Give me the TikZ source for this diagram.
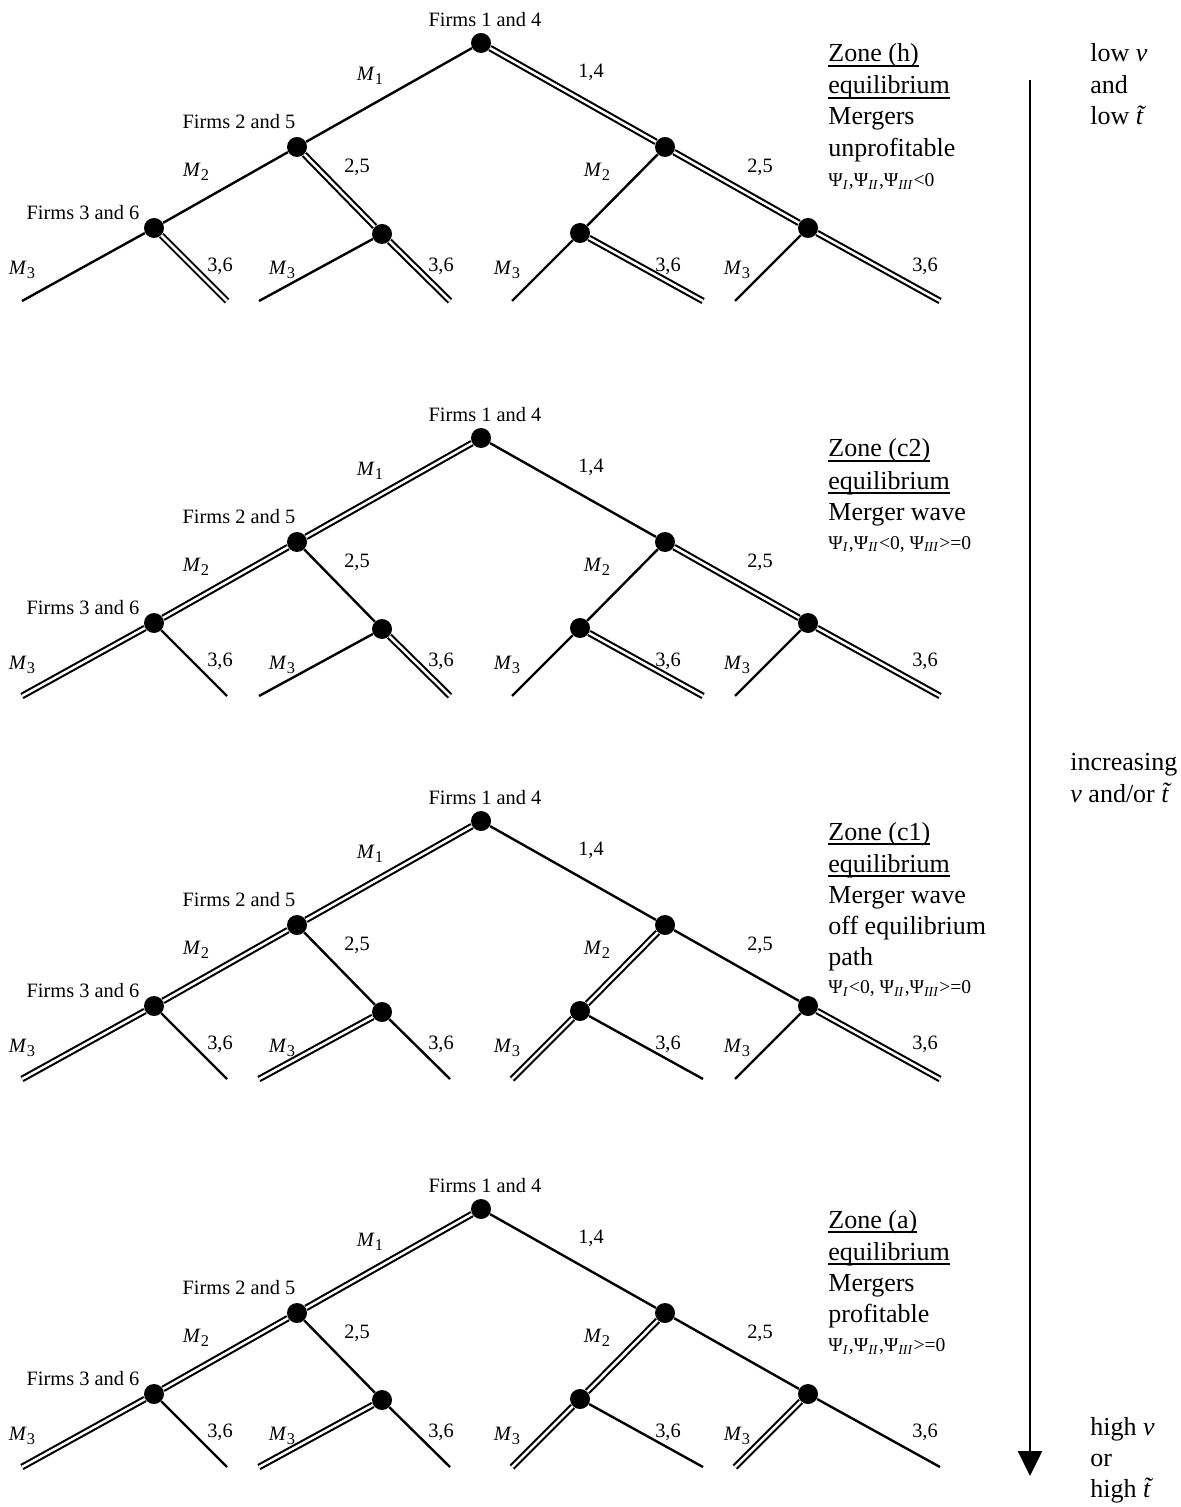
\documentclass[tikz,border=0pt]{standalone}
\usepackage{fontspec}
\setmainfont{Liberation Serif}
\usetikzlibrary{arrows.meta}

% underline placed just below the baseline
\newcommand\zul[1]{\setbox0\hbox{#1}\rlap{\rule[-2.4pt]{\wd0}{0.7pt}}\box0}
\newcommand\psisub[1]{Ψ\textsubscript{\textit{#1}}}
\newcommand\msub[1]{\textit{M}\raisebox{-0.45ex}{\fontsize{8.2}{10}\selectfont #1}}

\tikzset{
  sgl/.style={draw, line width=1.2pt},
  dbl/.style={draw, line width=1.05pt, double, double distance=1.25pt},
  dot/.style={circle, fill, inner sep=0pt, minimum size=10pt},
  lbl/.style={font=\fontsize{10.2}{12}\selectfont, inner sep=0pt},
  ztxt/.style={font=\fontsize{13}{15}\selectfont, anchor=base west, inner sep=0pt},
  psi/.style={font=\fontsize{9.8}{12}\selectfont, anchor=base west, inner sep=0pt},
  eA/.style=sgl, eB/.style=sgl, eC/.style=sgl, eD/.style=sgl,
  eE/.style=sgl, eF/.style=sgl, eG/.style=sgl, eH/.style=sgl,
  eI/.style=sgl, eJ/.style=sgl, eK/.style=sgl, eL/.style=sgl,
  eM/.style=sgl, eN/.style=sgl
}

% #1 name prefix, #2 vertical offset, #3 edge styles of this tree
\newcommand\gametree[3]{%
\begin{scope}[shift={(0,#2)},#3]
  \node[dot] (#1r) at (481,43) {};
  \node[dot] (#1a) at (297,147) {};
  \node[dot] (#1b) at (665,147) {};
  \node[dot] (#1c) at (154,228) {};
  \node[dot] (#1d) at (382,234) {};
  \node[dot] (#1e) at (580,233) {};
  \node[dot] (#1f) at (808,228) {};
  \coordinate (#1l1) at (22,301);
  \coordinate (#1l2) at (227,301);
  \coordinate (#1l3) at (259,301);
  \coordinate (#1l4) at (450,301);
  \coordinate (#1l5) at (512,301);
  \coordinate (#1l6) at (703,301);
  \coordinate (#1l7) at (735,301);
  \coordinate (#1l8) at (940,301);
  \draw[eA] (#1r) -- (#1a);
  \draw[eB] (#1r) -- (#1b);
  \draw[eC] (#1a) -- (#1c);
  \draw[eD] (#1a) -- (#1d);
  \draw[eE] (#1b) -- (#1e);
  \draw[eF] (#1b) -- (#1f);
  \draw[eG] (#1c) -- (#1l1);
  \draw[eH] (#1c) -- (#1l2);
  \draw[eI] (#1d) -- (#1l3);
  \draw[eJ] (#1d) -- (#1l4);
  \draw[eK] (#1e) -- (#1l5);
  \draw[eL] (#1e) -- (#1l6);
  \draw[eM] (#1f) -- (#1l7);
  \draw[eN] (#1f) -- (#1l8);
  \node[lbl] (#1n1) at (485,20) {Firms 1 and 4};
  \node[lbl] (#1n2) at (239,122) {Firms 2 and 5};
  \node[lbl] (#1n3) at (83,213) {Firms 3 and 6};
  \node[lbl] (#1m1) at (370,76) {\msub{1}};
  \node[lbl] (#1p1) at (591,72) {1,4};
  \node[lbl] (#1m2) at (196,172) {\msub{2}};
  \node[lbl] (#1p2) at (357,167) {2,5};
  \node[lbl] (#1m3) at (597,172) {\msub{2}};
  \node[lbl] (#1p3) at (760,167) {2,5};
  \node[lbl] (#1m4) at (22,270) {\msub{3}};
  \node[lbl] (#1p4) at (220,266) {3,6};
  \node[lbl] (#1m5) at (282,270) {\msub{3}};
  \node[lbl] (#1p5) at (441,266) {3,6};
  \node[lbl] (#1m6) at (507,270) {\msub{3}};
  \node[lbl] (#1p6) at (668,266) {3,6};
  \node[lbl] (#1m7) at (737,270) {\msub{3}};
  \node[lbl] (#1p7) at (925,266) {3,6};
\end{scope}}

\begin{document}
\begin{tikzpicture}[x=0.5pt,y=-0.5pt]
  \useasboundingbox (0,0) rectangle (1181,1507);

  % zone (h): no mergers
  \gametree{h}{0}{eB/.style=dbl, eD/.style=dbl, eF/.style=dbl, eH/.style=dbl,
                  eJ/.style=dbl, eL/.style=dbl, eN/.style=dbl}
  % zone (c2)
  \gametree{w}{395}{eA/.style=dbl, eC/.style=dbl, eG/.style=dbl, eJ/.style=dbl,
                    eL/.style=dbl, eF/.style=dbl, eN/.style=dbl}
  % zone (c1)
  \gametree{o}{778}{eA/.style=dbl, eC/.style=dbl, eG/.style=dbl, eI/.style=dbl,
                    eE/.style=dbl, eK/.style=dbl, eN/.style=dbl}
  % zone (a)
  \gametree{p}{1166}{eA/.style=dbl, eC/.style=dbl, eG/.style=dbl, eI/.style=dbl,
                     eE/.style=dbl, eK/.style=dbl, eM/.style=dbl}

  % zone descriptions
  \node[ztxt] (hz1) at (828,62) {\zul{Zone (h)}};
  \node[ztxt] (hz2) at (828,94) {\zul{equilibrium}};
  \node[ztxt] (hz3) at (828,125) {Mergers};
  \node[ztxt] (hz4) at (828,157) {unprofitable};
  \node[psi]  (hz5) at (828,187) {\psisub{I},\psisub{II},\psisub{III}<0};

  \node[ztxt] (wz1) at (828,457) {\zul{Zone (c2)}};
  \node[ztxt] (wz2) at (828,489) {\zul{equilibrium}};
  \node[ztxt] (wz3) at (828,520) {Merger wave};
  \node[psi]  (wz4) at (828,549) {\psisub{I},\psisub{II}<0, \psisub{III}>=0};

  \node[ztxt] (oz1) at (828,840) {\zul{Zone (c1)}};
  \node[ztxt] (oz2) at (828,872) {\zul{equilibrium}};
  \node[ztxt] (oz3) at (828,903) {Merger wave};
  \node[ztxt] (oz4) at (828,934) {off equilibrium};
  \node[ztxt] (oz5) at (828,965) {path};
  \node[psi]  (oz6) at (828,993) {\psisub{I}<0, \psisub{II},\psisub{III}>=0};

  \node[ztxt] (pz1) at (828,1228) {\zul{Zone (a)}};
  \node[ztxt] (pz2) at (828,1260) {\zul{equilibrium}};
  \node[ztxt] (pz3) at (828,1291) {Mergers};
  \node[ztxt] (pz4) at (828,1322) {profitable};
  \node[psi]  (pz5) at (828,1351) {\psisub{I},\psisub{II},\psisub{III}>=0};

  % direction of increasing parameters
  \coordinate (arrtop) at (1030,80);
  \coordinate (arrtip) at (1030,1476);
  \draw[line width=1.2pt, -{Triangle[width=12pt,length=12.5pt]}] (arrtop) -- (arrtip);

  \node[ztxt] (r1) at (1090,62) {low \textit{v}};
  \node[ztxt] (r2) at (1090,94) {and};
  \node[ztxt] (r3) at (1090,125) {low \textit{\~{t}}};
  \node[ztxt] (r4) at (1070,770) {increasing};
  \node[ztxt] (r5) at (1070,802) {\textit{v} and/or \textit{\~{t}}};
  \node[ztxt] (r6) at (1090,1435) {high \textit{v}};
  \node[ztxt] (r7) at (1090,1466) {or};
  \node[ztxt] (r8) at (1090,1497) {high \textit{\~{t}}};
\end{tikzpicture}
\end{document}
